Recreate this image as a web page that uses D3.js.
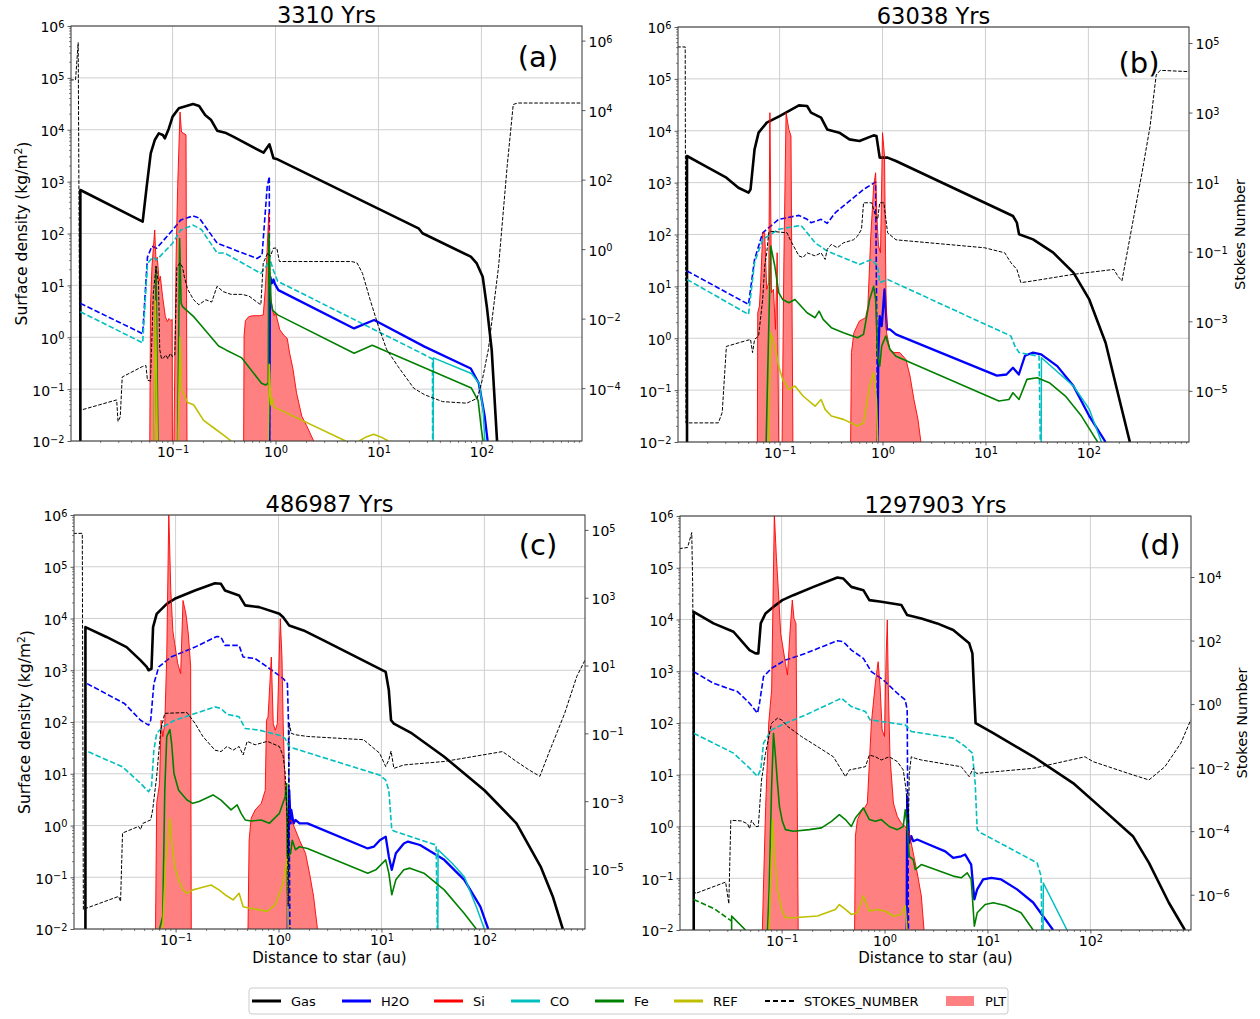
<!DOCTYPE html>
<html>
<head>
<meta charset="utf-8">
<script src="https://cdn.jsdelivr.net/npm/d3@7"></script>
<style>
  body { margin: 0; background: #fff; }
  svg { display: block; }
  text { font-family: "DejaVu Sans", sans-serif; fill: #000; }
</style>
</head>
<body>
<svg id="fig" width="1260" height="1019"></svg>
<script>
// ---------------------------------------------------------------------------
// Surface density profiles of a disc at four epochs, [distance (au), value].
// null entries separate disconnected pieces of a profile.
// ---------------------------------------------------------------------------
const titles = ["3310 Yrs", "63038 Yrs", "486987 Yrs", "1297903 Yrs"];
const tags = ["(a)", "(b)", "(c)", "(d)"];
const legendLabels = ["Gas", "H2O", "Si", "CO", "Fe", "REF", "STOKES_NUMBER", "PLT"];

const xTicks = [0.1, 1, 10, 100];
const yTicks = [1e-2, 1e-1, 1, 1e1, 1e2, 1e3, 1e4, 1e5, 1e6];
const stokesTicksA = [1e-4, 1e-2, 1, 1e2, 1e4, 1e6];
const stokesTicksB = [1e-5, 1e-3, 1e-1, 1e1, 1e3, 1e5];
const stokesTicksC = [1e-5, 1e-3, 1e-1, 1e1, 1e3, 1e5];
const stokesTicksD = [1e-6, 1e-4, 1e-2, 1, 1e2, 1e4];

// ----- (a) 3310 yr -----
const gasA = [[0.0127,0.01],[0.0127,689],[0.0512,169],[0.056,798],[0.0613,3500],[0.0671,6340],[0.0734,8530],[0.0804,7930],[0.0841,6830],[0.092,10600],[0.1,17900],[0.115,25900],[0.158,31400],[0.181,28700],[0.207,19200],[0.237,15400],[0.271,9600],[0.324,8780],[0.388,7350],[0.764,3610],[0.873,5240],[0.956,2810],[1.046,2690],[24.5,126],[26.8,101],[78.9,35.7],[90.2,26.5],[103,14.7],[113,3.88],[126,0.57],[142,0.01]];
const h2oA = [[0.87,0.01],[0.88,3],[0.889,14.7],[0.92,11],[0.956,13],[0.98,10.9],[1.066,8.1],[5.79,1.48],[9.08,2.15],[28,0.66],[78.9,0.25],[94.4,0.13],[108,0.029],[115,0.01]];
const h2oDashA = [[0.0127,4.5],[0.0512,1.17],[0.057,35],[0.063,57],[0.07,52],[0.1,117],[0.12,182],[0.158,218],[0.181,200],[0.271,65],[0.66,33],[0.74,38],[0.83,800],[0.87,1250],[0.875,0.01]];
const coDashA = [[0.0127,3.1],[0.0512,0.78],[0.057,26],[0.064,35],[0.07,31],[0.1,65],[0.12,117],[0.158,145],[0.19,120],[0.271,42],[0.32,42],[0.72,17],[0.83,25],[0.87,35],[0.95,20],[1.05,12],[28,0.46],[33.5,0.38],[33.6,0.01]];
const coA = [[34,0.01],[34.2,0.4],[80,0.2],[95,0.13],[104,0.04],[108,0.01]];
const feA = [[0.066,0.01],[0.069,23],[0.072,0.01],null,[0.112,0.01],[0.117,80],[0.121,4.5],[0.125,3.9],[0.16,2.5],[0.18,1.9],[0.28,0.68],[0.33,0.57],[0.47,0.4],[0.73,0.13],[0.8,0.12],[0.85,0.13],[0.86,100],[0.9,5],[0.94,3.3],[1.05,2.7],[5.8,0.49],[8.7,0.7],[80,0.105],[93,0.06],[100,0.017],[104,0.01]];
const refA = [[0.066,0.01],[0.068,5],[0.071,0.01],null,[0.113,0.01],[0.118,1.0],[0.122,0.1],[0.14,0.055],[0.16,0.05],[0.2,0.025],[0.25,0.018],[0.33,0.012],[0.37,0.01],null,[0.85,0.01],[0.87,0.3],[0.9,0.05],[0.93,0.066],[0.97,0.045],[4.8,0.01],null,[6.5,0.01],[7.6,0.012],[9,0.0135],[10.5,0.012],[12.5,0.01]];
const pltA = [[0.060,0.01],[0.061,4],[0.063,23],[0.067,117],[0.069,30],[0.071,35],[0.074,12],[0.076,15],[0.08,6],[0.085,2.5],[0.089,2],[0.092,2.3],[0.096,2.1],[0.099,2.2],[0.0995,0.01],null,[0.103,0.01],[0.108,30],[0.112,800],[0.118,22000],[0.122,9000],[0.135,8000],[0.138,0.01],null,[0.49,0.01],[0.495,1.1],[0.51,2.1],[0.55,2.5],[0.6,2.6],[0.7,2.6],[0.76,2.7],[0.8,10],[0.86,250],[0.88,12],[0.9,6],[0.93,3.5],[0.97,2.6],[1.0,3],[1.06,1.9],[1.1,1.4],[1.2,1.1],[1.3,0.95],[1.37,0.5],[1.48,0.24],[1.6,0.085],[1.8,0.03],[2.0,0.02],[2.35,0.01]];
const stokesA = [[0.0101,7.4e4],[0.0114,7.4e4],[0.0121,8.7e5],[0.0126,2.3e-5],[0.0286,4.6e-5],[0.0295,1.1e-5],[0.031,1.5e-5],[0.0324,2.1e-4],[0.051,4.2e-4],[0.055,4.5e-4],[0.057,1.7e-4],[0.061,1.6e-4],[0.065,0.054],[0.069,0.32],[0.073,0.1],[0.075,1.3e-3],[0.078,7e-4],[0.082,7.5e-4],[0.086,9e-4],[0.09,7e-4],[0.095,1e-3],[0.1,8e-4],[0.105,9e-4],[0.11,0.3],[0.118,0.4],[0.125,0.3],[0.13,0.16],[0.14,0.07],[0.16,0.035],[0.18,0.025],[0.21,0.035],[0.24,0.03],[0.27,0.085],[0.31,0.06],[0.37,0.05],[0.47,0.05],[0.55,0.045],[0.66,0.03],[0.72,0.025],[0.76,0.4],[0.84,0.77],[0.89,0.62],[0.955,1.07],[1.03,1.07],[1.09,0.44],[5.5,0.44],[6.2,0.4],[7,0.2],[8.3,0.035],[10,0.006],[12,0.0013],[15.5,4.2e-4],[22,1e-4],[28,6.5e-5],[42,4.1e-5],[72,3.7e-5],[91,5.1e-5],[102,1.7e-4],[117,1.3e-3],[147,0.32],[178,240],[204,1.45e4],[224,1.6e4],[950,1.6e4]];

// ----- (b) 63038 yr -----
const gasB = [[0.0126,0.01],[0.0126,3260],[0.0177,2250],[0.0304,1245],[0.0398,798],[0.0499,640],[0.0522,741],[0.0571,4380],[0.0625,9180],[0.075,14300],[0.1,19200],[0.154,30900],[0.185,30000],[0.202,22300],[0.253,17900],[0.29,10600],[0.38,9180],[0.477,6820],[0.597,6330],[0.82,8150],[0.873,7930],[0.939,3030],[1.12,3030],[1.35,2610],[18.5,227],[20.2,169],[21.2,101],[29,80.5],[45.6,44.6],[71.6,18.4],[102,5.6],[147,0.82],[193,0.089],[253,0.01]];
const h2oB = [[0.897,0.01],[0.91,0.5],[0.939,2.68],[0.982,1.72],[1.046,8.75],[1.104,1.48],[1.18,1.48],[1.35,1.19],[12.9,0.19],[16,0.2],[18.5,0.27],[21.1,0.2],[24.2,0.46],[29,0.53],[34.8,0.49],[49.9,0.29],[71.6,0.12],[102,0.0316],[147,0.01]];
const h2oDashB = [[0.0126,19.8],[0.0499,4.5],[0.0571,33],[0.0685,108],[0.098,196],[0.154,234],[0.185,196],[0.202,169],[0.253,196],[0.29,164],[0.348,263],[0.499,475],[0.654,741],[0.857,1030],[0.897,0.01]];
const coDashB = [[0.0126,13.6],[0.0499,2.88],[0.0571,28.6],[0.0685,80.5],[0.098,126],[0.161,150],[0.185,108],[0.221,69.5],[0.29,48],[0.417,35.7],[0.597,26.5],[0.784,33],[0.897,24.7],[0.939,11.8],[1.12,13.6],[17.7,1.1],[19.3,0.71],[21.2,0.53],[33.2,0.45],[34.1,0.01]];
const coB = [[34.8,0.01],[35,0.42],[71.6,0.12],[102,0.043],[134,0.01]];
const feB = [[0.074,0.01],[0.078,1],[0.082,60],[0.0898,24.7],[0.098,7.55],[0.107,5.6],[0.123,4.84],[0.141,5.6],[0.185,3.1],[0.221,2.49],[0.242,3.34],[0.265,2.31],[0.318,1.6],[0.417,1.28],[0.571,1.02],[0.654,1.19],[0.75,5.6],[0.82,10.1],[0.857,5.6],[0.897,0.45],[0.939,0.29],[0.982,0.71],[1.075,1.1],[1.18,0.61],[1.35,0.45],[13.5,0.0615],[16.9,0.066],[18.5,0.089],[21.2,0.066],[25.3,0.161],[31.8,0.173],[41.7,0.139],[59.8,0.077],[85.7,0.0316],[123,0.01]];
const refB = [[0.0784,0.01],[0.082,1.28],[0.0898,0.71],[0.098,0.29],[0.107,0.161],[0.123,0.103],[0.141,0.12],[0.169,0.077],[0.221,0.049],[0.253,0.066],[0.277,0.0426],[0.318,0.0316],[0.417,0.0273],[0.571,0.0203],[0.654,0.0235],[0.75,0.12],[0.82,0.217],[0.873,0.066],[0.897,0.01]];
const pltB = [[0.0608,0.01],[0.0613,3.1],[0.0637,4.2],[0.0655,11.8],[0.0685,108],[0.0716,108],[0.075,8.75],[0.0784,11.8],[0.0805,22300],[0.0834,7.55],[0.0872,8.75],[0.0912,1.48],[0.0947,44.6],[0.098,0.01],null,[0.1057,0.01],[0.11,30],[0.1156,22300],[0.123,10600],[0.129,7930],[0.1347,0.01],null,[0.49,0.01],[0.499,0.53],[0.527,1.28],[0.597,2.15],[0.684,2.49],[0.72,4],[0.769,93],[0.82,859],[0.857,1550],[0.881,227],[0.914,60],[0.956,44.6],[1.0,9180],[1.046,3260],[1.07,40],[1.094,1.28],[1.18,0.61],[1.29,0.53],[1.47,0.53],[1.69,0.39],[1.85,0.187],[2.02,0.066],[2.21,0.0273],[2.36,0.01]];
const stokesB = [[0.0101,7.7e4],[0.0121,7.7e4],[0.0123,1.2e-6],[0.0254,1.2e-6],[0.0277,2.4e-6],[0.0304,1.9e-4],[0.0477,2.8e-4],[0.0522,3.0e-4],[0.0546,1.26e-4],[0.0571,3.0e-4],[0.0625,3.8e-4],[0.0685,4.3e-3],[0.0716,0.039],[0.075,0.093],[0.0784,0.35],[0.08,0.39],[0.118,0.35],[0.129,0.2],[0.154,0.076],[0.169,0.068],[0.185,0.093],[0.221,0.076],[0.253,0.093],[0.277,0.06],[0.29,0.117],[0.318,0.163],[0.364,0.13],[0.417,0.18],[0.522,0.22],[0.571,0.28],[0.625,0.44],[0.654,2.55],[0.784,2.55],[0.857,1.06],[0.897,0.85],[0.939,2.55],[1.03,2.55],[1.12,0.35],[1.35,0.22],[1.93,0.2],[9.8,0.13],[15.4,0.093],[17.7,0.048],[20.2,0.031],[22.1,0.0129],[29,0.0145],[71.6,0.0224],[177,0.031],[193,0.02],[212,0.0145],[277,1.06],[332,18.6],[398,405],[456,1.2e4],[499,1.64e4],[950,1.5e4]];

// ----- (c) 486987 yr -----
const gasC = [[0.0133,0.01],[0.0133,6800],[0.0213,4400],[0.0334,2800],[0.0457,1550],[0.0524,1160],[0.0547,1000],[0.0583,1070],[0.0604,6800],[0.0655,12300],[0.082,19200],[0.098,24000],[0.154,34800],[0.241,48000],[0.276,46800],[0.302,34800],[0.414,27900],[0.474,17900],[0.649,16600],[1.02,12300],[1.11,10600],[1.27,7350],[1.75,5890],[2.74,3780],[11.0,927],[11.8,410],[12.4,108],[13.2,93],[19.8,60],[40.7,21.3],[100,4.8],[205,1.1],[352,0.161],[461,0.043],[578,0.01]];
const h2oC = [[1.23,0.01],[1.24,0.3],[1.27,4.8],[1.31,1.1],[1.33,2.0],[1.4,1.1],[1.46,1.28],[1.6,1.1],[1.91,1.1],[7.36,0.36],[8.43,0.39],[9.64,0.52],[11.0,0.61],[11.8,0.25],[12.6,0.139],[13.8,0.29],[16.5,0.45],[18.1,0.49],[23.7,0.42],[40.7,0.217],[63.8,0.089],[91.4,0.027],[109,0.01]];
const h2oDashC = [[0.0138,552],[0.0319,227],[0.0457,108],[0.0547,87],[0.0573,108],[0.0615,552],[0.0686,1160],[0.0898,1800],[0.154,2800],[0.252,4500],[0.276,4370],[0.302,3020],[0.414,3020],[0.453,1800],[0.593,1680],[0.778,1160],[1.11,690],[1.22,552],[1.25,93],[1.29,0.01]];
const coDashC = [[0.0142,26.5],[0.0305,13.6],[0.0457,6.5],[0.0547,4.5],[0.0583,5.6],[0.0615,28.6],[0.0655,60],[0.075,80.5],[0.098,108],[0.154,146],[0.241,196],[0.276,182],[0.316,141],[0.414,126],[0.474,75],[0.649,69.5],[1.02,55.6],[1.16,48],[1.27,33],[9.64,9.4],[11.0,7.5],[11.8,4.8],[12.6,0.82],[13.8,0.76],[34,0.42],[34.9,0.01]];
const coC = [[35.3,0.01],[35.5,0.34],[48.7,0.186],[63.8,0.102],[83.5,0.027],[100,0.01]];
const feC = [[0.0698,0.01],[0.075,0.0175],[0.0785,4.8],[0.082,52],[0.088,71.6],[0.0915,38.5],[0.0964,10.1],[0.107,4.8],[0.129,3.1],[0.147,2.68],[0.169,2.9],[0.231,3.9],[0.276,3.1],[0.346,2.0],[0.396,2.5],[0.433,1.72],[0.474,1.28],[0.542,1.22],[0.679,1.28],[0.813,1.1],[1.02,1.72],[1.16,3.6],[1.2,6.5],[1.22,0.05],[1.24,0.25],[1.31,0.29],[1.36,0.52],[1.46,0.34],[1.6,0.39],[1.91,0.36],[7.36,0.12],[8.82,0.139],[11.0,0.217],[11.8,0.12],[12.6,0.046],[13.8,0.089],[16.5,0.139],[18.9,0.15],[25.9,0.12],[40.7,0.057],[63.8,0.02],[83.5,0.01]];
const refC = [[0.075,0.01],[0.08,0.2],[0.088,1.38],[0.0915,0.52],[0.098,0.161],[0.107,0.089],[0.118,0.057],[0.129,0.049],[0.147,0.057],[0.169,0.0615],[0.221,0.071],[0.264,0.057],[0.302,0.046],[0.362,0.0366],[0.414,0.049],[0.453,0.027],[0.542,0.025],[0.778,0.0219],[0.93,0.0295],[1.11,0.077],[1.22,0.25],[1.24,0.01]];
const pltC = [[0.0638,0.01],[0.0655,2.68],[0.0698,6.5],[0.0723,108],[0.075,52],[0.0785,93],[0.082,1800],[0.0859,1.1e6],[0.0898,34800],[0.094,5890],[0.098,3260],[0.105,1340],[0.112,859],[0.118,22300],[0.126,12300],[0.133,5000],[0.14,1200],[0.142,0.01],null,[0.505,0.01],[0.518,0.52],[0.542,1.38],[0.593,2.0],[0.679,2.68],[0.743,4.8],[0.764,108],[0.791,126],[0.851,1800],[0.889,93],[0.93,69.5],[0.973,93],[1.04,9890],[1.08,1800],[1.11,93],[1.16,4.8],[1.24,1.1],[1.33,1.28],[1.46,0.82],[1.6,0.52],[1.83,0.29],[2.0,0.12],[2.19,0.043],[2.39,0.01]];
const stokesC = [[0.0101,7.9e4],[0.0124,7.9e4],[0.0127,6.3e-7],[0.0136,7e-7],[0.0279,1.55e-6],[0.0292,1.1e-6],[0.0305,1.15e-4],[0.0437,1.8e-4],[0.0457,1.45e-4],[0.0478,2.2e-4],[0.0573,2.8e-4],[0.0599,5.6e-4],[0.0655,5.4e-3],[0.0717,0.126],[0.0785,0.39],[0.129,0.41],[0.154,0.2],[0.184,0.081],[0.241,0.032],[0.276,0.029],[0.316,0.041],[0.362,0.032],[0.414,0.041],[0.453,0.023],[0.496,0.058],[0.593,0.046],[0.778,0.058],[1.02,0.041],[1.11,0.021],[1.16,6.8e-3],[1.22,2.2e-4],[1.24,8e-7],[1.27,0.2],[1.31,0.126],[1.33,0.1],[1.46,0.091],[1.91,0.081],[6.7,0.065],[9.6,0.026],[11.0,0.0105],[11.8,0.0166],[12.4,0.03],[13.2,0.0093],[16.5,0.0117],[40.7,0.0148],[150,0.029],[205,0.0148],[269,0.0085],[346,0.0054],[422,0.026],[603,0.39],[791,4.8],[991,18.5]];

// ----- (d) 1297903 yr -----
const gasD = [[0.014,0.01],[0.014,14100],[0.0218,8400],[0.0341,5800],[0.0488,2570],[0.0558,2220],[0.0594,2220],[0.0627,8400],[0.0698,13100],[0.0834,17600],[0.1017,23700],[0.13,29500],[0.204,42700],[0.348,64700],[0.398,61900],[0.476,42700],[0.623,36900],[0.712,23700],[0.931,22000],[1.46,19000],[1.66,12200],[2.28,10500],[3.25,8400],[4.65,6250],[6.65,3460],[7.14,2220],[7.4,436],[7.67,99],[11.4,63.5],[27.8,22.5],[67.9,6.9],[139,1.96],[259,0.65],[371,0.198],[579,0.0336],[828,0.01]];
const h2oD = [[1.64,0.01],[1.66,3.8],[1.74,0.48],[1.82,0.65],[1.9,0.52],[2.08,0.56],[2.49,0.48],[3.89,0.33],[4.65,0.247],[5.56,0.266],[6.08,0.287],[6.95,0.184],[7.46,0.039],[7.95,0.061],[9.08,0.095],[10.9,0.102],[13.6,0.095],[19.4,0.061],[27.8,0.034],[43.4,0.01]];
const h2oDashD = [[0.014,982],[0.0218,585],[0.0373,404],[0.0488,241],[0.0583,155],[0.061,241],[0.0667,787],[0.0798,1140],[0.109,1650],[0.171,2220],[0.348,3890],[0.398,3720],[0.476,2570],[0.623,1770],[0.745,982],[0.973,679],[1.33,376],[1.59,280],[1.66,179],[1.71,0.01]];
const coDashD = [[0.014,63.5],[0.0218,40.7],[0.0341,26.2],[0.0488,13.4],[0.0583,9.3],[0.0627,12.5],[0.0667,40.7],[0.0798,73.7],[0.109,99],[0.171,143],[0.381,301],[0.476,208],[0.652,166],[0.725,115],[1.22,99],[1.59,92],[1.82,68.5],[4.65,51],[6.08,35.2],[7.14,26.2],[7.6,6.9],[7.95,0.87],[8.69,0.75],[30.4,0.198],[33.2,0.11],[33.8,0.01]];
const coD = [[34.7,0.01],[34.9,0.081],[59.3,0.01]];
const feD = [[0.0327,0.01],[0.0327,0.0185],[0.0446,0.01],null,[0.073,0.01],[0.0757,0.061],[0.0798,5.1],[0.0834,63.5],[0.0872,22.5],[0.0912,6.9],[0.0953,2.45],[0.1017,1.26],[0.109,0.87],[0.13,0.81],[0.186,0.87],[0.244,0.94],[0.305,1.26],[0.364,1.69],[0.417,1.36],[0.476,1.0],[0.521,1.46],[0.623,2.28],[0.712,1.36],[0.814,1.26],[0.931,1.36],[1.11,1.0],[1.33,0.87],[1.52,1.0],[1.59,2.11],[1.65,1.17],[1.74,0.266],[1.9,0.23],[1.99,0.147],[2.28,0.184],[4.65,0.11],[5.56,0.102],[6.36,0.127],[6.95,0.095],[7.46,0.0119],[7.95,0.0215],[9.5,0.0312],[11.4,0.0336],[14.9,0.0298],[21.2,0.0215],[27.8,0.01]];
const feDashD = [[0.014,0.039],[0.022,0.026],[0.031,0.016],[0.0325,0.015]];
const refD = [[0.0757,0.01],[0.0819,1.36],[0.0855,0.266],[0.0912,0.061],[0.0998,0.025],[0.109,0.0172],[0.13,0.0172],[0.223,0.0186],[0.333,0.025],[0.364,0.031],[0.417,0.025],[0.476,0.02],[0.545,0.0215],[0.623,0.045],[0.712,0.023],[0.851,0.025],[1.02,0.023],[1.22,0.0186],[1.45,0.02],[1.59,0.0295],[1.65,0.01]];
const pltD = [[0.065,0.01],[0.067,0.1],[0.07,2.45],[0.075,100],[0.08,436],[0.085,1.1e6],[0.089,1.6e5],[0.093,36900],[0.098,5370],[0.104,2570],[0.109,1420],[0.114,847],[0.121,6250],[0.127,23700],[0.132,10500],[0.138,8400],[0.145,0.01],null,[0.512,0.01],[0.521,0.65],[0.545,1.36],[0.596,1.96],[0.64,2.28],[0.681,2.84],[0.745,100],[0.814,585],[0.867,1530],[0.906,505],[0.948,73.8],[1.0,54.9],[1.036,1910],[1.064,9770],[1.09,436],[1.13,22.5],[1.22,2.84],[1.33,1.57],[1.45,1.17],[1.59,1.0],[1.74,0.75],[1.9,0.309],[2.08,0.127],[2.28,0.045],[2.42,0.01]];
const stokesD = [[0.0101,7.8e4],[0.0122,8.5e4],[0.0134,2.5e5],[0.0137,4.1e3],[0.014,1.4e-6],[0.0146,1.1e-6],[0.0286,2.5e-6],[0.0307,5.2e-7],[0.0321,2.2e-4],[0.0408,2.1e-4],[0.0467,1.7e-4],[0.0488,1.2e-4],[0.051,2.2e-4],[0.0558,1.4e-4],[0.0594,1.4e-4],[0.0638,4.1e-3],[0.0698,0.028],[0.0798,0.25],[0.0912,0.36],[0.0998,0.32],[0.114,0.2],[0.156,0.095],[0.223,0.046],[0.318,0.022],[0.381,0.0085],[0.417,0.0052],[0.456,0.0085],[0.545,0.0095],[0.652,0.0107],[0.712,0.025],[0.814,0.022],[0.931,0.0174],[1.11,0.022],[1.33,0.0155],[1.52,0.0085],[1.62,0.002],[1.71,1.7e-4],[1.74,0.0066],[1.82,0.022],[1.99,0.0196],[2.28,0.0174],[5.56,0.0107],[6.65,0.0052],[7.27,0.0095],[7.81,0.0066],[27.8,0.0095],[88.7,0.022],[106,0.0155],[259,0.0059],[371,0.0041],[530,0.0107],[757,0.059],[946,0.32]];

// ---------------------------------------------------------------------------
// Layout and styling
// ---------------------------------------------------------------------------
const X_DOMAIN = [0.0103, 950];
const Y_DOMAIN = [0.01, 1e6];

const panels = [
  { frame: {left: 71,  top: 26,  width: 511, height: 415}, stokesExp: [-5.52, 6.42], stokesTicks: stokesTicksA,
    tagPos: [538, 66.5], yLabel: true,  sLabel: false, xLabel: false,
    gas: gasA, h2o: h2oA, h2oDash: h2oDashA, co: coA, coDash: coDashA, fe: feA, feDash: null, ref: refA, plt: pltA, stokes: stokesA },
  { frame: {left: 678, top: 27,  width: 511, height: 415}, stokesExp: [-6.47, 5.46], stokesTicks: stokesTicksB,
    tagPos: [1139, 73], yLabel: false, sLabel: true,  xLabel: false,
    gas: gasB, h2o: h2oB, h2oDash: h2oDashB, co: coB, coDash: coDashB, fe: feB, feDash: null, ref: refB, plt: pltB, stokes: stokesB },
  { frame: {left: 74,  top: 515, width: 511, height: 414}, stokesExp: [-6.77, 5.44], stokesTicks: stokesTicksC,
    tagPos: [538, 555], yLabel: true,  sLabel: false, xLabel: true,
    gas: gasC, h2o: h2oC, h2oDash: h2oDashC, co: coC, coDash: coDashC, fe: feC, feDash: null, ref: refC, plt: pltC, stokes: stokesC },
  { frame: {left: 680, top: 516, width: 511, height: 414}, stokesExp: [-7.11, 5.92], stokesTicks: stokesTicksD,
    tagPos: [1160, 555], yLabel: false, sLabel: true,  xLabel: true,
    gas: gasD, h2o: h2oD, h2oDash: h2oDashD, co: coD, coDash: coDashD, fe: feD, feDash: feDashD, ref: refD, plt: pltD, stokes: stokesD }
];

const DASH = "5.5,2.4";
const style = {
  gas:     { stroke: "#000000", width: 2.6 },
  h2o:     { stroke: "#0000ff", width: 2.3 },
  h2oDash: { stroke: "#0000ff", width: 1.6, dash: DASH },
  si:      { stroke: "#ff0000", width: 0.9 },
  co:      { stroke: "#00bfbf", width: 1.5 },
  coDash:  { stroke: "#00bfbf", width: 1.6, dash: DASH },
  fe:      { stroke: "#008000", width: 1.6 },
  feDash:  { stroke: "#008000", width: 1.6, dash: DASH },
  ref:     { stroke: "#bfbf00", width: 1.6 },
  stokes:  { stroke: "#000000", width: 1.0, dash: "3.7,1.6" }
};
const PLT_FILL = "#ff8080";
const GRID = "#cfcfcf";
const SPINE = "#333333";
const TICK_FONT = 14;

const svg = d3.select("#fig");

// "10" with a raised exponent, as used on every log axis here
function powerLabel(textSel) {
  textSel.each(function (d) {
    const t = d3.select(this);
    t.text(null);
    const e = Math.round(Math.log10(d));
    t.append("tspan").text("10");
    t.append("tspan").attr("dy", "-0.45em").attr("font-size", "0.7em")
      .text(String(e).replace("-", "\u2212"));
  });
}

function drawPath(g, data, xs, ys, st) {
  if (!data) return;
  const line = d3.line().defined(d => d != null).x(d => xs(d[0])).y(d => ys(d[1]));
  const p = g.append("path").datum(data).attr("d", line)
    .attr("fill", "none").attr("stroke", st.stroke).attr("stroke-width", st.width)
    .attr("stroke-linejoin", "round");
  if (st.dash) p.attr("stroke-dasharray", st.dash);
}

panels.forEach((p, i) => {
  const f = p.frame;
  const g = svg.append("g").attr("transform", `translate(${f.left},${f.top})`);
  const x = d3.scaleLog().domain(X_DOMAIN).range([0, f.width]);
  const y = d3.scaleLog().domain(Y_DOMAIN).range([f.height, 0]);
  const ys = d3.scaleLog().domain([Math.pow(10, p.stokesExp[0]), Math.pow(10, p.stokesExp[1])]).range([f.height, 0]);

  const clipId = "clip" + i;
  g.append("clipPath").attr("id", clipId).append("rect")
    .attr("x", 0).attr("y", 0).attr("width", f.width).attr("height", f.height);

  // grid
  const grid = g.append("g");
  xTicks.forEach(v => grid.append("line").attr("x1", x(v)).attr("x2", x(v)).attr("y1", 0).attr("y2", f.height)
    .attr("stroke", GRID).attr("stroke-width", 1));
  yTicks.forEach(v => grid.append("line").attr("x1", 0).attr("x2", f.width).attr("y1", y(v)).attr("y2", y(v))
    .attr("stroke", GRID).attr("stroke-width", 1));

  const plot = g.append("g").attr("clip-path", `url(#${clipId})`);

  // planetesimal fill, outlined by the Si trace
  const area = d3.area().defined(d => d != null).x(d => x(d[0])).y0(f.height).y1(d => y(d[1]));
  plot.append("path").datum(p.plt).attr("d", area).attr("fill", PLT_FILL).attr("stroke", "none");

  drawPath(plot, p.gas, x, y, style.gas);
  drawPath(plot, p.h2oDash, x, y, style.h2oDash);
  drawPath(plot, p.h2o, x, y, style.h2o);
  drawPath(plot, p.plt, x, y, style.si);
  drawPath(plot, p.coDash, x, y, style.coDash);
  drawPath(plot, p.co, x, y, style.co);
  drawPath(plot, p.feDash, x, y, style.feDash);
  drawPath(plot, p.fe, x, y, style.fe);
  drawPath(plot, p.ref, x, y, style.ref);
  drawPath(plot, p.stokes, x, ys, style.stokes);

  // spines
  g.append("rect").attr("x", 0).attr("y", 0).attr("width", f.width).attr("height", f.height)
    .attr("fill", "none").attr("stroke", SPINE).attr("stroke-width", 1);

  // bottom axis
  const gx = g.append("g").attr("transform", `translate(0,${f.height})`)
    .call(d3.axisBottom(x).tickValues(xTicks).tickSize(3.5).tickPadding(3));
  gx.attr("font-size", TICK_FONT).attr("font-family", "DejaVu Sans");
  gx.select(".domain").remove();
  gx.selectAll(".tick line").attr("stroke", SPINE).attr("stroke-width", 0.8);
  gx.selectAll(".tick text").attr("y", 16).attr("dy", null).call(powerLabel);

  // left axis
  const gy = g.append("g").call(d3.axisLeft(y).tickValues(yTicks).tickSize(3.5).tickPadding(3));
  gy.attr("font-size", TICK_FONT).attr("font-family", "DejaVu Sans");
  gy.select(".domain").remove();
  gy.selectAll(".tick line").attr("stroke", SPINE).attr("stroke-width", 0.8);
  gy.selectAll(".tick text").attr("dy", "0.42em").call(powerLabel);

  // right (Stokes number) axis
  const gr = g.append("g").attr("transform", `translate(${f.width},0)`)
    .call(d3.axisRight(ys).tickValues(p.stokesTicks).tickSize(3.5).tickPadding(3));
  gr.attr("font-size", TICK_FONT).attr("font-family", "DejaVu Sans");
  gr.select(".domain").remove();
  gr.selectAll(".tick line").attr("stroke", SPINE).attr("stroke-width", 0.8);
  gr.selectAll(".tick text").attr("dy", "0.42em").call(powerLabel);

  // minor ticks on the log axes
  const minor = g.append("g").attr("stroke", SPINE).attr("stroke-width", 0.6);
  for (let e = -2; e <= 3; e++) {
    for (let m = 2; m <= 9; m++) {
      const v = m * Math.pow(10, e);
      if (v > X_DOMAIN[0] && v < X_DOMAIN[1]) {
        minor.append("line").attr("x1", x(v)).attr("x2", x(v)).attr("y1", f.height).attr("y2", f.height + 2);
      }
    }
  }
  for (let e = -2; e < 6; e++) {
    for (let m = 2; m <= 9; m++) {
      const v = m * Math.pow(10, e);
      minor.append("line").attr("x1", 0).attr("x2", -2).attr("y1", y(v)).attr("y2", y(v));
    }
  }

  // title and panel tag
  svg.append("text").attr("x", f.left + f.width / 2).attr("y", f.top - 3.5)
    .attr("text-anchor", "middle").attr("font-size", 22.5).text(titles[i]);
  svg.append("text").attr("x", p.tagPos[0]).attr("y", p.tagPos[1])
    .attr("text-anchor", "middle").attr("font-size", 29).text(tags[i]);

  if (p.yLabel) {
    const t = svg.append("text")
      .attr("transform", `translate(${f.left - 44},${f.top + f.height / 2}) rotate(-90)`)
      .attr("text-anchor", "middle").attr("font-size", 15.5);
    t.append("tspan").text("Surface density (kg/m");
    t.append("tspan").attr("dy", "-0.45em").attr("font-size", "0.7em").text("2");
    t.append("tspan").attr("dy", "0.45em").text(")");
  }
  if (p.sLabel) {
    svg.append("text")
      .attr("transform", `translate(${f.left + f.width + 56},${f.top + f.height / 2}) rotate(-90)`)
      .attr("text-anchor", "middle").attr("font-size", 14.5).text("Stokes Number");
  }
  if (p.xLabel) {
    svg.append("text").attr("x", f.left + f.width / 2).attr("y", 963)
      .attr("text-anchor", "middle").attr("font-size", 15).text("Distance to star (au)");
  }
});

// ---------------------------------------------------------------------------
// Legend
// ---------------------------------------------------------------------------
const legend = svg.append("g");
legend.append("rect").attr("x", 249).attr("y", 988).attr("width", 759).attr("height", 26)
  .attr("rx", 3).attr("fill", "#fff").attr("stroke", "#cccccc").attr("stroke-width", 1);
const legendX = [252, 342, 434, 511, 595, 674, 765, 946];
const legendStyles = [style.gas, style.h2o, { stroke: "#ff0000", width: 2.6 }, style.co, style.fe, style.ref, style.stokes, null];
const LY = 1001;
legendLabels.forEach((lab, k) => {
  const x0 = legendX[k];
  const st = legendStyles[k];
  if (st) {
    const l = legend.append("line").attr("x1", x0).attr("x2", x0 + 29).attr("y1", LY).attr("y2", LY)
      .attr("stroke", st.stroke).attr("stroke-width", k === 6 ? 1.8 : 3);
    if (k === 6) l.attr("stroke-dasharray", "5,3");
  } else {
    legend.append("rect").attr("x", x0).attr("y", LY - 5).attr("width", 28).attr("height", 10).attr("fill", PLT_FILL);
  }
  legend.append("text").attr("x", x0 + 39).attr("y", LY + 4.5).attr("font-size", 13).text(lab);
});
</script>
</body>
</html>
